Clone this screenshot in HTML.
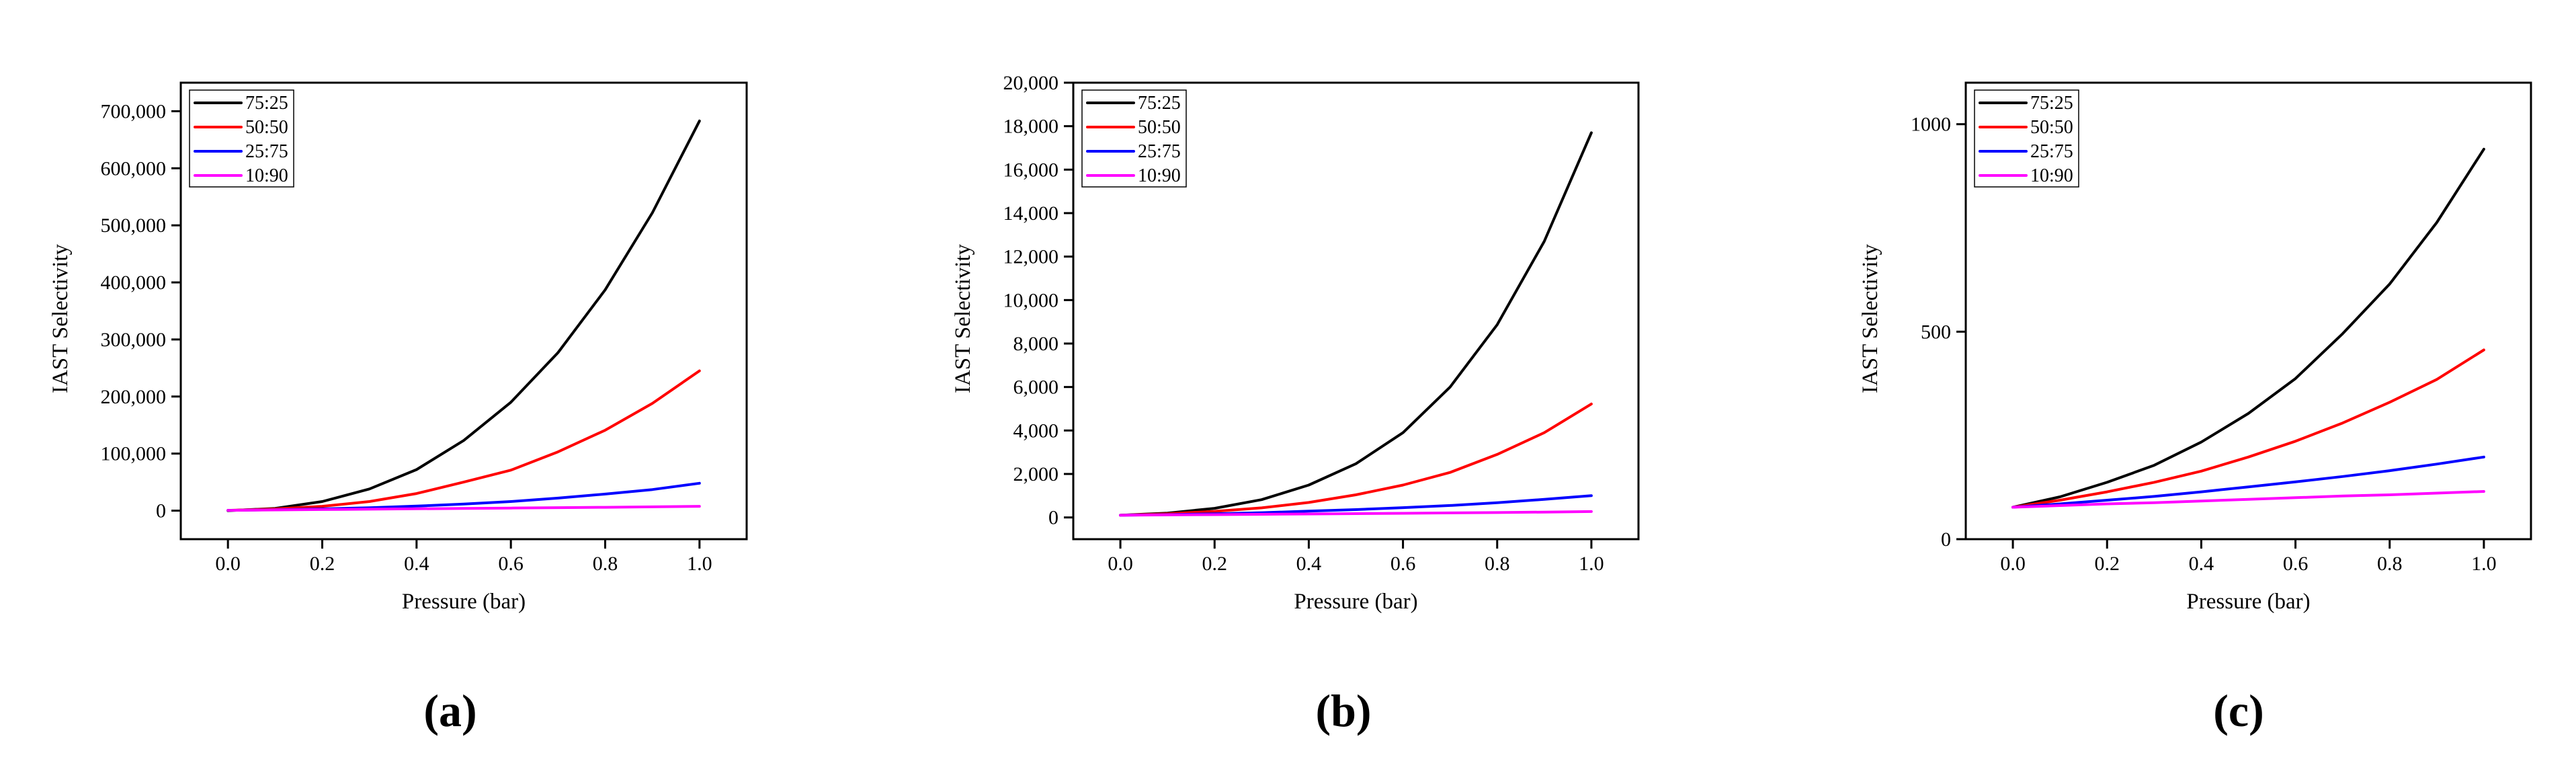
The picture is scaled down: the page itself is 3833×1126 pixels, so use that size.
<!DOCTYPE html>
<html><head><meta charset="utf-8"><style>
html,body{margin:0;padding:0;background:#fff;}
svg{display:block;font-family:"Liberation Serif",serif;}
</style></head>
<body>
<svg id="fig" width="3833" height="1126" viewBox="0 0 3833 1126" xmlns="http://www.w3.org/2000/svg"></svg>
<script>
const xValues=[0,0.1,0.2,0.3,0.4,0.5,0.6,0.7,0.8,0.9,1.0];
const xTicks=[0,0.2,0.4,0.6,0.8,1.0];
const seriesNames=["75:25","50:50","25:75","10:90"];
const seriesColors=["#000000","#ff0000","#0000ff","#ff00ff"];
const a7525=[0,4000,16000,38000,72000,123000,190000,277000,387000,522000,683000];
const a5050=[500,3000,7600,16000,30000,50000,71000,103000,141000,188000,245000];
const a2575=[500,1500,3000,5000,8000,11500,16000,22000,29000,37000,48000];
const a1090=[500,1200,1900,2600,3200,3800,4500,5200,5900,6700,7600];
const b7525=[100,200,420,820,1490,2470,3900,6000,8870,12700,17700];
const b5050=[100,170,280,440,690,1040,1490,2070,2900,3900,5220];
const b2575=[100,130,170,220,290,360,450,550,680,830,1000];
const b1090=[100,115,130,145,160,175,190,210,225,245,270];
const c7525=[77,102,137,178,234,303,387,495,615,763,940];
const c5050=[77,94,114,137,164,198,236,280,330,385,456];
const c2575=[77,85,94,103,114,126,138,151,165,181,198];
const c1090=[77,81,85,88,92,96,100,104,107,111,115];
const aYTicks=[0,100000,200000,300000,400000,500000,600000,700000];
const bYTicks=[0,2000,4000,6000,8000,10000,12000,14000,16000,18000,20000];
const cYTicks=[0,500,1000];

const NS="http://www.w3.org/2000/svg";
const svg=document.getElementById('fig');
function mk(tag,attrs,parent){const e=document.createElementNS(NS,tag);for(const k in attrs)e.setAttribute(k,attrs[k]);(parent||svg).appendChild(e);return e;}
function fmt(v,comma){return comma?v.toLocaleString('en-US'):String(v);}

function panel(id,L,R,yMin,yMax,yTicks,series,comma,titleX,letter,letterX){
  const T=123,B=802;
  const g=mk('g',{});
  
  
  const xs=v=>L+(v+0.1)/1.2*(R-L);
  const ys=v=>B-(v-yMin)/(yMax-yMin)*(B-T);
  const frame=mk('rect',{x:L,y:T,width:R-L,height:B-T,fill:'none',stroke:'#000','stroke-width':3},g);
  
  
  xTicks.forEach(t=>{
    const x=xs(t);
    mk('line',{x1:x,x2:x,y1:B,y2:B+14,stroke:'#000','stroke-width':3},g);
    const tx=mk('text',{x:x,y:848,'font-size':30,'text-anchor':'middle'},g);
    tx.textContent=t.toFixed(1);
    
    
  });
  yTicks.forEach(t=>{
    const y=ys(t);
    mk('line',{x1:L-14,x2:L,y1:y,y2:y,stroke:'#000','stroke-width':3},g);
    const tx=mk('text',{x:L-22,y:y+10,'font-size':30,'text-anchor':'end'},g);
    tx.textContent=fmt(t,comma);
    
    
  });
  series.forEach((s,i)=>{
    const pts=xValues.map((x,j)=>xs(x).toFixed(1)+','+ys(s[j]).toFixed(1)).join(' ');
    const pl=mk('polyline',{points:pts,fill:'none',stroke:seriesColors[i],'stroke-width':4,'stroke-linejoin':'round','stroke-linecap':'round'},g);
    
    
  });
  const lg=mk('g',{},g);
  
  
  mk('rect',{x:L+13,y:134,width:155,height:144,fill:'#fff',stroke:'#000','stroke-width':1.5},lg);
  seriesNames.forEach((n,i)=>{
    const y=153+i*36;
    const e=mk('g',{},lg);
    
    
    mk('line',{x1:L+21,x2:L+90,y1:y,y2:y,stroke:seriesColors[i],'stroke-width':4,'stroke-linecap':'round'},e);
    const t=mk('text',{x:L+96,y:y+9,'font-size':28},e);
    t.textContent=n;
  });
  const yt=mk('text',{x:0,y:0,'font-size':33,'text-anchor':'middle',transform:'translate('+(titleX+11)+',474) rotate(-90)'},g);
  yt.textContent='IAST Selectivity';
  
  
  const xt=mk('text',{x:(L+R)/2,y:905,'font-size':33,'text-anchor':'middle'},g);
  xt.textContent='Pressure (bar)';
  
  
  const lt=mk('text',{x:letterX,y:1080,'font-size':68,'font-weight':'bold','text-anchor':'middle'},g);
  lt.textContent='('+letter+')';
  
  
}
panel('a',269,1111,-50000,750000,aYTicks,[a7525,a5050,a2575,a1090],true,89,'a',670);
panel('b',1597,2438,-1000,20000,bYTicks,[b7525,b5050,b2575,b1090],true,1432,'b',1999);
panel('c',2925,3766,0,1100,cYTicks,[c7525,c5050,c2575,c1090],false,2782,'c',3331);
</script>
</body></html>
